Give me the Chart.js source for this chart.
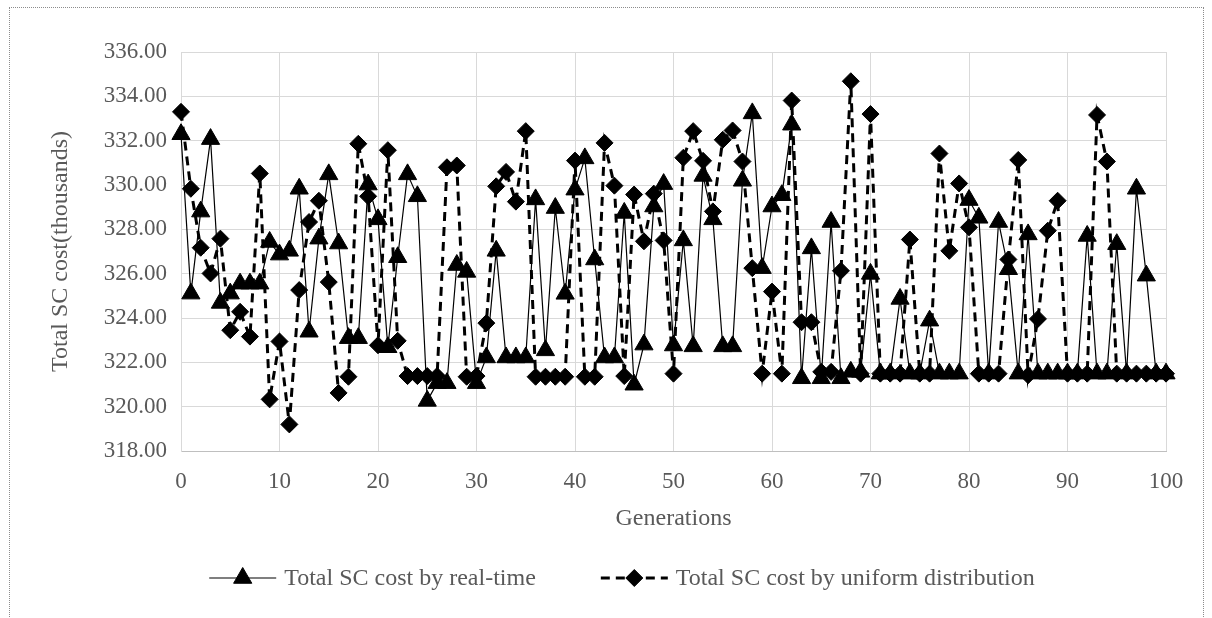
<!DOCTYPE html>
<html><head><meta charset="utf-8">
<script src="https://cdn.jsdelivr.net/npm/chart.js@4.4.1/dist/chart.umd.min.js"></script>
<style>
html,body{margin:0;padding:0;background:#fff;}
#wrap{position:relative;width:1212px;height:618px;overflow:hidden;}
#frame{position:absolute;left:9px;top:7px;width:1193px;height:640px;border:1px dotted #8c8c8c;pointer-events:none;}
canvas{position:absolute;left:0;top:0;}
</style></head><body>
<div id="wrap"><canvas id="c" width="1212" height="618"></canvas><div id="frame"></div></div>
<script>
const generations = [0,1,2,3,4,5,6,7,8,9,10,11,12,13,14,15,16,17,18,19,20,21,22,23,24,25,26,27,28,29,30,31,32,33,34,35,36,37,38,39,40,41,42,43,44,45,46,47,48,49,50,51,52,53,54,55,56,57,58,59,60,61,62,63,64,65,66,67,68,69,70,71,72,73,74,75,76,77,78,79,80,81,82,83,84,85,86,87,88,89,90,91,92,93,94,95,96,97,98,99,100];
const realTime = [332.29, 325.10, 328.80, 332.07, 324.68, 325.10, 325.55, 325.55, 325.55, 327.43,
326.86, 327.03, 329.83, 323.38, 327.58, 330.48, 327.36, 323.09, 323.09, 330.02,
328.45, 322.68, 326.74, 330.48, 329.49, 320.26, 321.06, 321.06, 326.39, 326.08,
321.06, 322.22, 327.03, 322.22, 322.22, 322.22, 329.35, 322.54, 328.96, 325.09,
329.79, 331.20, 326.64, 322.22, 322.22, 328.74, 320.99, 322.80, 329.03, 330.04,
322.76, 327.50, 322.72, 330.41, 328.45, 322.72, 322.72, 330.19, 333.23, 326.25,
329.03, 329.54, 332.72, 321.28, 327.14, 321.28, 328.33, 321.28, 321.57, 321.57,
325.99, 321.49, 321.49, 324.86, 321.49, 321.49, 323.88, 321.49, 321.49, 321.49,
329.32, 328.52, 321.49, 328.33, 326.20, 321.49, 327.77, 321.49, 321.49, 321.49,
321.49, 321.49, 327.70, 321.49, 321.49, 327.33, 321.49, 329.83, 325.91, 321.49,
321.49];
const uniformDist = [333.30, 329.83, 327.17, 326.01, 327.58, 323.45, 324.28, 323.16, 330.52, 320.33,
322.94, 319.20, 325.26, 328.33, 329.29, 325.62, 320.62, 321.35, 331.86, 329.49,
322.77, 331.57, 322.97, 321.38, 321.38, 321.38, 321.38, 330.80, 330.88, 321.35,
321.38, 323.77, 329.94, 330.59, 329.25, 332.43, 321.35, 321.35, 321.35, 321.35,
331.10, 321.35, 321.35, 331.90, 329.97, 321.38, 329.57, 327.46, 329.61, 327.50,
321.49, 331.23, 332.43, 331.09, 328.81, 332.04, 332.46, 331.06, 326.25, 321.49,
325.19, 321.49, 333.81, 323.81, 323.81, 321.57, 321.57, 326.13, 334.68, 321.49,
333.20, 321.49, 321.49, 321.49, 327.54, 321.49, 321.49, 331.42, 327.03, 330.07,
328.09, 321.49, 321.49, 321.49, 326.64, 331.13, 321.42, 323.96, 327.94, 329.29,
321.49, 321.49, 321.49, 333.16, 331.06, 321.49, 321.49, 321.49, 321.49, 321.49,
321.49];
const xTicks = [0,10,20,30,40,50,60,70,80,90,100];
const yTicks = [318,320,322,324,326,328,330,332,334,336];
const seriesNames = ['Total SC cost by real-time', 'Total SC cost by uniform distribution'];
const xTitle = 'Generations';
const yTitle = 'Total SC cost(thousands)';

const FONT = '"Liberation Serif", "Times New Roman", serif';
const TXT = '#595959';
const GRID = '#d9d9d9';

function drawMarker(ctx, style, x, y, r) {
  ctx.beginPath();
  if (style === 'triangle') {
    const w = r * Math.sin(Math.PI * 2 / 3);
    ctx.moveTo(x, y - r);
    ctx.lineTo(x + w, y + r / 2);
    ctx.lineTo(x - w, y + r / 2);
  } else {
    ctx.moveTo(x - r, y); ctx.lineTo(x, y - r); ctx.lineTo(x + r, y); ctx.lineTo(x, y + r);
  }
  ctx.closePath();
  ctx.fillStyle = '#000';
  ctx.fill();
  ctx.lineWidth = 1; ctx.strokeStyle = '#000'; ctx.stroke();
}

const legendPlugin = {
  id: 'lineLegend',
  afterDraw(chart) {
    const ctx = chart.ctx;
    ctx.save();
    ctx.font = '24px ' + FONT;
    ctx.textBaseline = 'middle';
    const y = 578, lineLen = 67, gapText = 8, gapItems = 65;
    const ds = chart.data.datasets;
    const items = ds.map(d => ({d, w: lineLen + gapText + ctx.measureText(d.label).width}));
    const total = items.reduce((s, i) => s + i.w, 0) + gapItems * (items.length - 1);
    let x = 622 - total / 2;
    items.forEach(it => {
      const d = it.d;
      ctx.strokeStyle = '#000';
      ctx.lineWidth = d.borderWidth;
      ctx.setLineDash(d.borderDash || []);
      ctx.beginPath(); ctx.moveTo(x, y); ctx.lineTo(x + lineLen, y); ctx.stroke();
      ctx.setLineDash([]);
      drawMarker(ctx, d.pointStyle, x + lineLen / 2, y, d.pointRadius);
      ctx.fillStyle = TXT;
      ctx.textAlign = 'left';
      ctx.fillText(d.label, x + lineLen + gapText, y + 1);
      x += it.w + gapItems;
    });
    ctx.restore();
  }
};

new Chart(document.getElementById('c'), {
  type: 'line',
  data: {
    datasets: [
      {
        label: seriesNames[0],
        data: generations.map((g, i) => ({x: g, y: realTime[i]})),
        borderColor: '#000', backgroundColor: '#000', borderWidth: 1.2,
        pointStyle: 'triangle', pointRadius: 10.5, pointBorderWidth: 1,
        pointBackgroundColor: '#000', pointBorderColor: '#000',
        tension: 0, clip: false, order: 1
      },
      {
        label: seriesNames[1],
        data: generations.map((g, i) => ({x: g, y: uniformDist[i]})),
        borderColor: '#000', backgroundColor: '#000', borderWidth: 3, borderDash: [9, 6],
        pointStyle: 'rectRot', pointRadius: 8.5, pointBorderWidth: 1,
        pointBackgroundColor: '#000', pointBorderColor: '#000',
        tension: 0, clip: false, order: 0
      }
    ]
  },
  options: {
    responsive: false, animation: false, events: [],
    layout: {padding: {left: 10, right: 46, top: 52, bottom: 70}},
    plugins: {legend: {display: false}, tooltip: {enabled: false}},
    scales: {
      x: {
        type: 'linear', min: 0, max: 100,
        afterBuildTicks: s => { s.ticks = xTicks.map(v => ({value: v})); },
        afterFit: s => { s.height = 97; },
        grid: {color: GRID, lineWidth: 1, drawTicks: false},
        border: {color: '#bfbfbf', width: 1},
        ticks: {color: TXT, font: {family: FONT, size: 23}, padding: 17, maxRotation: 0},
        title: {display: true, text: xTitle, color: TXT, font: {family: FONT, size: 24}, padding: {top: 4, bottom: 15}}
      },
      y: {
        type: 'linear', min: 318, max: 336,
        afterBuildTicks: s => { s.ticks = yTicks.map(v => ({value: v})); },
        afterFit: s => { s.width = 171; },
        grid: {color: GRID, lineWidth: 1, drawTicks: false},
        border: {color: GRID, width: 1},
        ticks: {color: TXT, font: {family: FONT, size: 23}, padding: 14, callback: v => Number(v).toFixed(2)},
        title: {display: true, text: yTitle, color: TXT, font: {family: FONT, size: 24}, padding: {top: 36, bottom: 4}}
      }
    }
  },
  plugins: [legendPlugin]
});
</script>
</body></html>
